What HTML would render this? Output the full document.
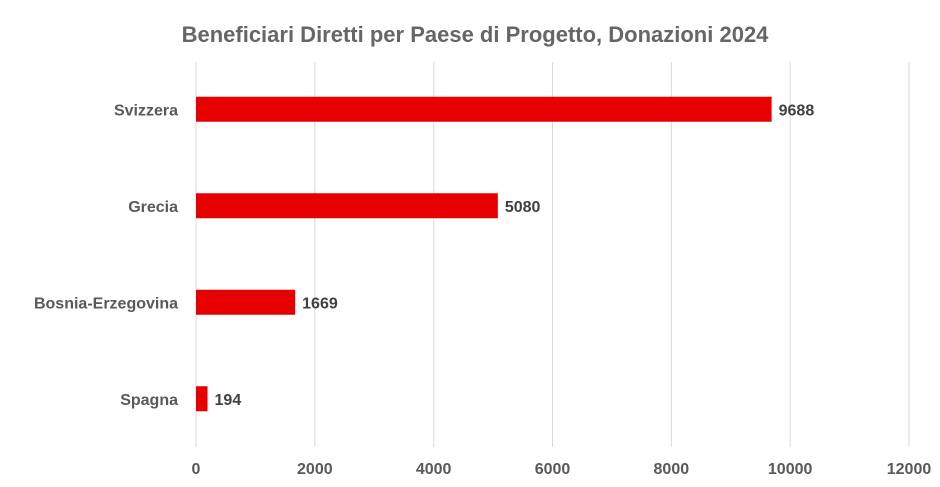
<!DOCTYPE html>
<html><head><meta charset="utf-8"><style>
body{margin:0;background:#fff;}
svg{display:block;font-family:"Liberation Sans",Arial,sans-serif;}
</style></head><body>
<svg id="chart" width="940" height="487" viewBox="0 0 940 487">
<text x="475" y="42" text-anchor="middle" font-size="22" font-weight="bold" fill="#666">Beneficiari Diretti per Paese di Progetto, Donazioni 2024</text>
<g id="grid"></g>
<g id="bars"></g>
<g id="xticks"></g>
<g id="ylabels"></g>
</svg>
<script>
const categories = ["Svizzera","Grecia","Bosnia-Erzegovina","Spagna"];
const values = [9688,5080,1669,194];
const tickLabels = [0,2000,4000,6000,8000,10000,12000];
const ns="http://www.w3.org/2000/svg";
const x0=196, x1=909, maxV=12000;
const xs=v=>x0+(v/maxV)*(x1-x0);
const yTop=62, band=96.5;
const yc=i=>yTop+band*(i+0.5)-1;
function mk(t,a,p){const e=document.createElementNS(ns,t);for(const k in a)e.setAttribute(k,a[k]);p.appendChild(e);return e;}
const grid=document.getElementById('grid'),bars=document.getElementById('bars'),xt=document.getElementById('xticks'),yl=document.getElementById('ylabels');
tickLabels.forEach(v=>{
  const l=mk('line',{x1:xs(v),x2:xs(v),y1:62,y2:447,stroke:'#d9d9d9','stroke-width':1},grid);
  
  
  const t=mk('text',{x:xs(v),y:474,'text-anchor':'middle','font-size':16,'font-weight':'bold',fill:'#595959'},xt);
  t.textContent=v;
  
  
});
categories.forEach((c,i)=>{
  const y=yc(i);
  const r=mk('rect',{x:xs(0),y:y-12.5,width:xs(values[i])-xs(0),height:25,fill:'#e60000'},bars);
  
  
  const v=mk('text',{x:xs(values[i])+7,y:y+6,'font-size':16,'font-weight':'bold',fill:'#404040'},bars);
  v.textContent=values[i];
  
  
  const t=mk('text',{x:178,y:y+6,'text-anchor':'end','font-size':16,'font-weight':'bold',fill:'#595959'},yl);
  t.textContent=c;
  
  
});
</script>
</body></html>
